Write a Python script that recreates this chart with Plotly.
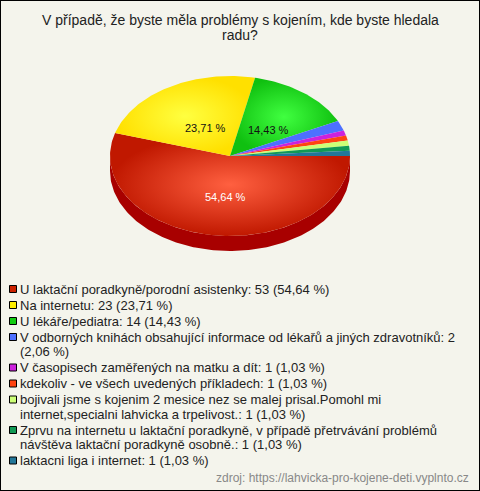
import math
import plotly.graph_objects as go

title_lines = ["V případě, že byste měla problémy s kojením, kde byste hledala", "radu?"]
labels = [
    "U laktační poradkyně/porodní asistenky",
    "Na internetu",
    "U lékáře/pediatra",
    "V odborných knihách obsahující informace od lékařů a jiných zdravotníků",
    "V časopisech zaměřených na matku a dít",
    "kdekoliv - ve všech uvedených příkladech",
    "bojivali jsme s kojenim 2 mesice nez se malej prisal.Pomohl mi internet,specialni lahvicka a trpelivost.",
    "Zprvu na internetu u laktační poradkyně, v případě přetrvávání problémů návštěva laktační poradkyně osobně.",
    "laktacni liga i internet",
]
values = [53, 23, 14, 2, 1, 1, 1, 1, 1]
colors = ["#cc2200", "#ffee00", "#11cc11", "#4d70ff", "#cc22dd", "#ff4411", "#ccff77", "#119955", "#227799"]
light_colors = ["#ff6040", "#ffff40", "#40ff40", "#4d70ff", "#cc22dd", "#ff4411", "#ccff77", "#119955", "#227799"]
edge_colors = ["#c01800", "#ffe000", "#10c010", "#4d70ff", "#cc22dd", "#ff4411", "#ccff77", "#119955", "#227799"]
side_colors = ["#a80000", "#c8b800", "#0a900a", "#3050c0", "#9010a0", "#c03000", "#99cc55", "#0a7040", "#145570"]
source = "zdroj: https://lahvicka-pro-kojene-deti.vyplnto.cz"
# where each legend label wraps (max characters on first line); 0 = no wrap
wrap_after = [0, 0, 0, 74, 0, 0, 62, 71, 0]

W, H = 480, 491
cx, cy, rx, ry, depth = 230, 156, 120, 80, 15
total = sum(values)
pcts = [v / total * 100 for v in values]

def fmt(p):
    return f"{p:.2f}".replace(".", ",") + " %"

fig = go.Figure()

def arc(t0, t1, dy=0, n=None):
    if n is None:
        n = max(4, int(abs(t1 - t0) / 1.0) + 2)
    xs, ys = [], []
    for i in range(n + 1):
        t = math.radians(t0 + (t1 - t0) * i / n)
        xs.append(cx + rx * math.cos(t))
        ys.append(cy + ry * math.sin(t) + dy)
    return xs, ys

# side (3D) for visible front half: angles 0..180
start = 0.0
for i, v in enumerate(values):
    a0 = start
    a1 = start + v / total * 360
    s0, s1 = max(a0, 0), min(a1, 180)
    if s1 > s0:
        xt, yt = arc(s0, s1)
        xb, yb = arc(s1, s0, dy=depth)
        fig.add_trace(go.Scatter(x=xt + xb + [xt[0]], y=yt + yb + [yt[0]], mode="lines",
                                 fill="toself", fillcolor=side_colors[i], line=dict(width=0),
                                 hoverinfo="skip", showlegend=False))
    start = a1

# top faces
start = 0.0
mids = []
for i, v in enumerate(values):
    a0 = start
    a1 = start + v / total * 360
    xs, ys = arc(a0, a1)
    xs = [cx] + xs + [cx]
    ys = [cy] + ys + [cy]
    kw = {}
    if v >= 10:
        kw["fillgradient"] = dict(type="radial", colorscale=[[0, light_colors[i]], [1, edge_colors[i]]])
    else:
        kw["fillcolor"] = colors[i]
    fig.add_trace(go.Scatter(x=xs, y=ys, mode="lines", fill="toself", line=dict(width=0),
                             name=labels[i], hoverinfo="text",
                             text=f"{labels[i]}: {values[i]} ({fmt(pcts[i])})",
                             showlegend=False, **kw))
    mids.append((a0 + a1) / 2)
    start = a1

# slice labels for large slices
for i, v in enumerate(values):
    if pcts[i] < 5:
        continue
    t = math.radians(mids[i])
    f = 0.47
    fig.add_annotation(x=cx + 4 + rx * f * math.cos(t), y=cy + 4 + ry * f * math.sin(t),
                       text=fmt(pcts[i]), showarrow=False,
                       font=dict(family="Liberation Sans, Arial", size=11,
                                 color="white" if i == 0 else "#111"))

# legend
shapes = []
y = 289
for i, lab in enumerate(labels):
    full = f"{lab}: {values[i]} ({fmt(pcts[i])})"
    if wrap_after[i]:
        k = full.rfind(" ", 0, wrap_after[i] + 1)
        lines = [full[:k], full[k + 1:]]
    else:
        lines = [full]
    shapes.append(dict(type="rect", xref="x", yref="y", x0=9.5, x1=16.5, y0=y - 3.5, y1=y + 3.5,
                       fillcolor=colors[i], line=dict(color="black", width=1)))
    for j, ln in enumerate(lines):
        fig.add_annotation(x=18, y=y, text=ln, showarrow=False, xanchor="left", yanchor="middle",
                           font=dict(family="Liberation Sans, Arial", size=13, color="#222"))
        if j < len(lines) - 1:
            y += 14.5
    y += 16

# title
for j, ln in enumerate(title_lines):
    fig.add_annotation(x=240, y=20 + 15 * j, text=ln, showarrow=False, xanchor="center", yanchor="middle",
                       font=dict(family="Liberation Sans, Arial", size=14, color="#222"))

# source
fig.add_annotation(x=471, y=478, text=source, showarrow=False, xanchor="right", yanchor="middle",
                   font=dict(family="Liberation Sans, Arial", size=12, color="#888"))

shapes.append(dict(type="rect", xref="paper", yref="paper", x0=0, x1=1, y0=0, y1=1,
                   line=dict(color="black", width=2), layer="above"))

fig.update_layout(
    width=W, height=H, margin=dict(l=0, r=0, t=0, b=0),
    paper_bgcolor="#f4f4ec", plot_bgcolor="#f4f4ec",
    xaxis=dict(range=[0, W], visible=False, fixedrange=True),
    yaxis=dict(range=[H, 0], visible=False, fixedrange=True),
    shapes=shapes, showlegend=False,
)
fig.write_html("out.html", config={"displayModeBar": False},
               post_script="document.body.style.margin='0px';document.body.style.padding='0px';")
